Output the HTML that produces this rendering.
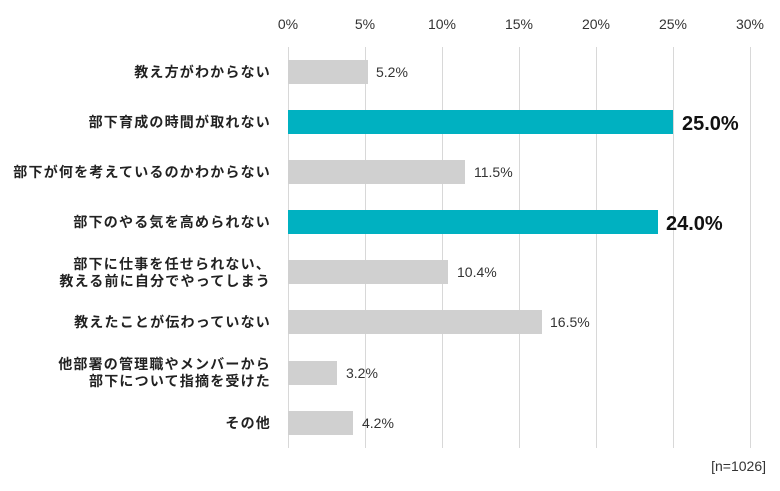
<!DOCTYPE html>
<html><head><meta charset="utf-8"><style>
body{margin:0;background:#fff;}
svg{display:block;font-family:"Liberation Sans","Noto Sans CJK JP",sans-serif;}
.lab{font-size:14px;font-weight:bold;fill:#222;letter-spacing:1.2px;text-anchor:end;}
.tick{font-size:14px;fill:#333;text-anchor:middle;}
.val{font-size:14px;fill:#333;}
.big{font-size:20px;font-weight:bold;fill:#111;}
</style></head><body>
<svg width="780" height="491" viewBox="0 0 780 491">
<g stroke="#d8d8d8" stroke-width="1">
<line x1="288.5" y1="47" x2="288.5" y2="448"/>
<line x1="365.5" y1="47" x2="365.5" y2="448"/>
<line x1="442.5" y1="47" x2="442.5" y2="448"/>
<line x1="519.5" y1="47" x2="519.5" y2="448"/>
<line x1="596.5" y1="47" x2="596.5" y2="448"/>
<line x1="673.5" y1="47" x2="673.5" y2="448"/>
<line x1="750.5" y1="47" x2="750.5" y2="448"/>
</g>
<g class="tick">
<text x="288" y="29">0%</text><text x="365" y="29">5%</text><text x="442" y="29">10%</text><text x="519" y="29">15%</text><text x="596" y="29">20%</text><text x="673" y="29">25%</text><text x="750" y="29">30%</text>
</g>
<g>
<rect x="288" y="60" width="80" height="24" fill="#d0d0d0"/>
<rect x="288" y="110" width="385" height="24" fill="#00b1c1"/>
<rect x="288" y="160" width="177" height="24" fill="#d0d0d0"/>
<rect x="288" y="210" width="370" height="24" fill="#00b1c1"/>
<rect x="288" y="260" width="160" height="24" fill="#d0d0d0"/>
<rect x="288" y="310" width="254" height="24" fill="#d0d0d0"/>
<rect x="288" y="361" width="49" height="24" fill="#d0d0d0"/>
<rect x="288" y="411" width="65" height="24" fill="#d0d0d0"/>
</g>
<g class="val">
<text x="376" y="77">5.2%</text>
<text x="474" y="177">11.5%</text>
<text x="457" y="277">10.4%</text>
<text x="550" y="327">16.5%</text>
<text x="346" y="378">3.2%</text>
<text x="362" y="428">4.2%</text>
</g>
<text class="big" x="682" y="130">25.0%</text>
<text class="big" x="666" y="230">24.0%</text>
<g class="lab">
<text x="271" y="77">教え方がわからない</text>
<text x="271" y="127">部下育成の時間が取れない</text>
<text x="271" y="177">部下が何を考えているのかわからない</text>
<text x="271" y="227">部下のやる気を高められない</text>
<text x="271" y="269">部下に仕事を任せられない、</text>
<text x="271" y="286">教える前に自分でやってしまう</text>
<text x="271" y="327">教えたことが伝わっていない</text>
<text x="271" y="369">他部署の管理職やメンバーから</text>
<text x="271" y="386">部下について指摘を受けた</text>
<text x="271" y="428">その他</text>
</g>
<text x="766" y="471" font-size="14" fill="#333" text-anchor="end">[n=1026]</text>
</svg>
</body></html>
